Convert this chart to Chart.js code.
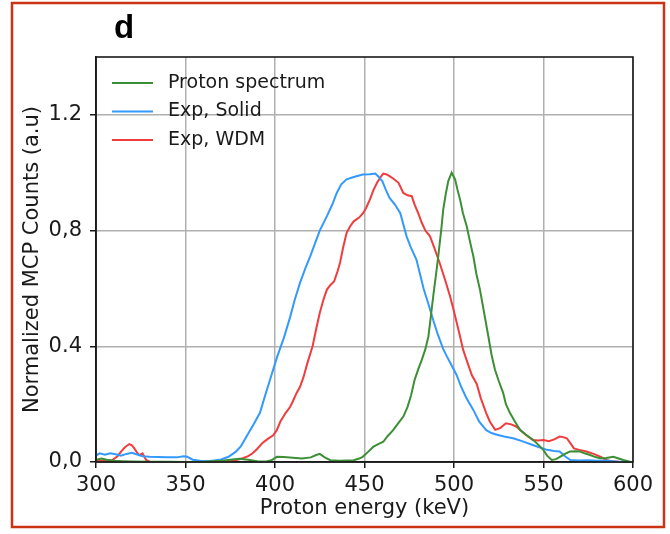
<!DOCTYPE html>
<html>
<head>
<meta charset="utf-8">
<script src="https://cdn.jsdelivr.net/npm/chart.js@4"></script>
<style>
  html, body { margin: 0; padding: 0; background: #fff; }
  canvas { display: block; }
</style>
</head>
<body>
<canvas id="spec" width="670" height="534"></canvas>
<script>
// tick positions and labels
const xTicks = [300, 350, 400, 450, 500, 550, 600];
const yTicks = [0, 0.4, 0.8, 1.2];
const yTickLabels = ["0,0", "0.4", "0,8", "1.2"];

// simulated proton spectrum
const protonE = [300, 303, 306, 310, 315, 320, 330, 340, 350, 360, 370, 375, 380, 385, 390, 395, 398, 401, 405, 410, 415, 420, 423, 425, 428, 431, 436, 440, 444, 447, 449, 452, 455, 458, 460.5, 463, 466, 469, 471.7, 474, 476, 478, 480, 482, 484, 485.7, 487, 488.4, 490, 491.2, 493, 494, 495.5, 496.8, 498.7, 500.6, 502, 503.4, 505, 507.1, 509, 510.8, 512.5, 514.5, 517, 519.2, 521, 522.9, 525, 527.5, 529, 531.3, 534, 536.9, 540, 544.3, 547, 549.9, 552, 554.6, 557, 559.2, 562, 564.8, 568, 570.4, 573, 576, 579, 581.6, 585, 589, 592, 594.6, 598.6, 600];
const protonCounts = [0.008, 0.012, 0.008, 0.004, 0.003, 0.002, 0.001, 0.001, 0.0, 0.001, 0.004, 0.008, 0.011, 0.008, 0.003, 0.002, 0.006, 0.018, 0.017, 0.015, 0.012, 0.016, 0.024, 0.028, 0.015, 0.006, 0.004, 0.005, 0.006, 0.012, 0.018, 0.035, 0.053, 0.063, 0.07, 0.09, 0.11, 0.135, 0.157, 0.19, 0.23, 0.284, 0.32, 0.353, 0.39, 0.434, 0.5, 0.573, 0.65, 0.711, 0.81, 0.873, 0.93, 0.971, 1.0, 0.977, 0.94, 0.907, 0.86, 0.815, 0.76, 0.711, 0.65, 0.596, 0.51, 0.434, 0.37, 0.319, 0.28, 0.238, 0.2, 0.169, 0.14, 0.111, 0.095, 0.076, 0.06, 0.042, 0.022, 0.007, 0.01, 0.018, 0.028, 0.036, 0.037, 0.036, 0.03, 0.024, 0.017, 0.013, 0.014, 0.018, 0.012, 0.007, 0.0, 0.0];

// measured, solid target
const solidE = [300, 302, 305, 308, 311, 314, 317, 320, 323, 326, 330, 335, 340, 345, 349, 351, 354, 358, 362, 366, 370, 374, 378, 381, 384, 388, 391.6, 394, 396, 398, 401, 405, 408.4, 411, 414, 417, 419.6, 422, 425, 429, 432, 434.5, 437, 440, 444, 449, 453, 456, 458, 460, 462, 464, 467, 470, 473.5, 476, 479, 481, 483, 486, 488.4, 491, 494, 496, 499, 501.5, 504, 507, 510.8, 514, 518, 521, 524, 528, 533, 538, 544, 548, 552, 556, 559, 562, 565, 570, 575, 580, 585, 590, 595, 600];
const solidCounts = [0.022, 0.03, 0.025, 0.03, 0.027, 0.022, 0.028, 0.032, 0.026, 0.02, 0.018, 0.017, 0.016, 0.016, 0.02, 0.018, 0.008, 0.004, 0.003, 0.005, 0.009, 0.018, 0.035, 0.055, 0.087, 0.13, 0.17, 0.22, 0.26, 0.3, 0.36, 0.43, 0.5, 0.56, 0.62, 0.67, 0.71, 0.75, 0.8, 0.85, 0.89, 0.93, 0.96, 0.977, 0.985, 0.994, 0.995, 0.997, 0.985, 0.97, 0.94, 0.913, 0.89, 0.86, 0.78, 0.74, 0.7, 0.65, 0.6, 0.54, 0.49, 0.44, 0.39, 0.365, 0.33, 0.3, 0.26, 0.22, 0.18, 0.14, 0.11, 0.1, 0.094, 0.088, 0.082, 0.072, 0.059, 0.05, 0.042, 0.038, 0.036, 0.02, 0.007, 0.005, 0.006, 0.004, 0.005, 0.002, 0.001, 0.0];

// measured, warm dense matter
const wdmE = [300, 305, 309, 312, 314, 316, 318.6, 320, 321.4, 323, 324.2, 326, 328, 330, 340, 350, 360, 370, 375, 379, 382, 385, 387.5, 390, 393, 396, 399, 401, 403, 406, 408.4, 410, 412, 414, 416, 418, 421, 423, 425, 427, 429, 431, 433, 435, 436.3, 438, 440, 442, 444, 447, 449.3, 451, 453, 455, 457, 459, 460.5, 462, 464, 466, 469, 471.7, 474, 476.4, 478, 480, 482, 484, 486.6, 489, 492, 495, 497.8, 500, 503.4, 505, 507, 510, 512.7, 515, 518, 520, 523, 526, 529, 532, 535, 538, 541, 544, 547, 550, 553, 556, 559, 561, 563, 565, 567, 570, 574, 578, 582, 585, 588, 592, 600];
const wdmCounts = [0.004, 0.005, 0.006, 0.02, 0.036, 0.05, 0.062, 0.058, 0.047, 0.032, 0.024, 0.03, 0.007, 0.001, 0.0, 0.0, 0.0, 0.001, 0.004, 0.008, 0.013, 0.02, 0.03, 0.045, 0.066, 0.08, 0.092, 0.11, 0.14, 0.17, 0.19, 0.21, 0.238, 0.26, 0.295, 0.34, 0.4, 0.46, 0.515, 0.56, 0.596, 0.612, 0.624, 0.66, 0.688, 0.74, 0.792, 0.815, 0.832, 0.845, 0.861, 0.88, 0.907, 0.94, 0.965, 0.985, 0.997, 0.995, 0.988, 0.98, 0.965, 0.93, 0.922, 0.919, 0.89, 0.86, 0.827, 0.8, 0.78, 0.74, 0.688, 0.63, 0.573, 0.52, 0.434, 0.39, 0.353, 0.3, 0.27, 0.22, 0.169, 0.14, 0.111, 0.118, 0.134, 0.13, 0.122, 0.105, 0.09, 0.076, 0.074, 0.076, 0.072, 0.078, 0.088, 0.086, 0.082, 0.065, 0.047, 0.042, 0.036, 0.028, 0.018, 0.007, 0.003, 0.001, 0.0];

const seriesNames = ["Proton spectrum", "Exp, Solid", "Exp, WDM"];
const seriesColors = ["#3d8f35", "#3399ff", "#f03c3c"];

const pts = (xs, ys) => xs.map((x, i) => ({ x: x, y: ys[i] }));

const FONT = "'DejaVu Sans', sans-serif";
const INK = "#1a1a1a";

// frame, legend, panel letter and outer box
const decorations = {
  id: "decorations",
  afterDatasetsDraw(chart) {
    const { ctx, chartArea: a } = chart;
    ctx.save();
    ctx.strokeStyle = INK;
    ctx.lineWidth = 1.6;
    ctx.strokeRect(a.left, a.top, a.right - a.left, a.bottom - a.top);

    ctx.font = "19px " + FONT;
    ctx.textBaseline = "middle";
    ctx.fillStyle = INK;
    chart.data.datasets.forEach((ds, i) => {
      const y = 83 + i * 28.5;
      ctx.strokeStyle = ds.borderColor;
      ctx.lineWidth = 2;
      ctx.beginPath();
      ctx.moveTo(112, y);
      ctx.lineTo(153, y);
      ctx.stroke();
      ctx.fillText(ds.label, 168, y);
    });
    ctx.restore();
  },
  afterDraw(chart) {
    const ctx = chart.ctx;
    ctx.save();
    ctx.fillStyle = "#000";
    ctx.font = "bold 33px 'Liberation Sans', Arial, sans-serif";
    ctx.textBaseline = "alphabetic";
    ctx.fillText("d", 114, 38);
    ctx.strokeStyle = "#cc3314";
    ctx.lineWidth = 2.5;
    ctx.strokeRect(12, 3, 652, 524);
    ctx.restore();
  }
};

new Chart(document.getElementById("spec"), {
  type: "line",
  data: {
    datasets: [
      { label: seriesNames[0], data: pts(protonE, protonCounts) },
      { label: seriesNames[1], data: pts(solidE, solidCounts) },
      { label: seriesNames[2], data: pts(wdmE, wdmCounts) }
    ].map((d, i) => Object.assign(d, {
      borderColor: seriesColors[i],
      borderWidth: 2,
      pointRadius: 0,
      tension: 0,
      fill: false
    }))
  },
  options: {
    responsive: false,
    devicePixelRatio: 1,
    animation: false,
    layout: { padding: { top: 57, right: 37, left: 0, bottom: 0 } },
    plugins: { legend: { display: false }, tooltip: { enabled: false } },
    scales: {
      x: {
        type: "linear",
        min: 300,
        max: 600,
        afterBuildTicks: (s) => { s.ticks = xTicks.map(v => ({ value: v })); },
        afterFit: (s) => { s.height = 72; },
        ticks: { font: { family: FONT, size: 21 }, color: INK, padding: 5, maxRotation: 0, autoSkip: false },
        grid: { color: "#b0b0b0", lineWidth: 1.5, tickColor: INK, tickLength: 6 },
        border: { color: INK, width: 1.6 },
        title: { display: true, text: "Proton energy (keV)", color: INK, font: { family: FONT, size: 21 }, padding: { top: 0, bottom: 13 } }
      },
      y: {
        min: 0,
        max: 1.4,
        afterBuildTicks: (s) => { s.ticks = yTicks.map(v => ({ value: v })); },
        afterFit: (s) => { s.width = 96; },
        ticks: {
          font: { family: FONT, size: 21 }, color: INK, padding: 8,
          callback: (v) => yTickLabels[yTicks.indexOf(v)]
        },
        grid: { color: "#b0b0b0", lineWidth: 1.5, tickColor: INK, tickLength: 6 },
        border: { color: INK, width: 1.6 },
        title: { display: true, text: "Normalized MCP Counts (a.u)", color: INK, font: { family: FONT, size: 21 }, padding: { top: 20, bottom: 0 } }
      }
    }
  },
  plugins: [decorations]
});
</script>
</body>
</html>
